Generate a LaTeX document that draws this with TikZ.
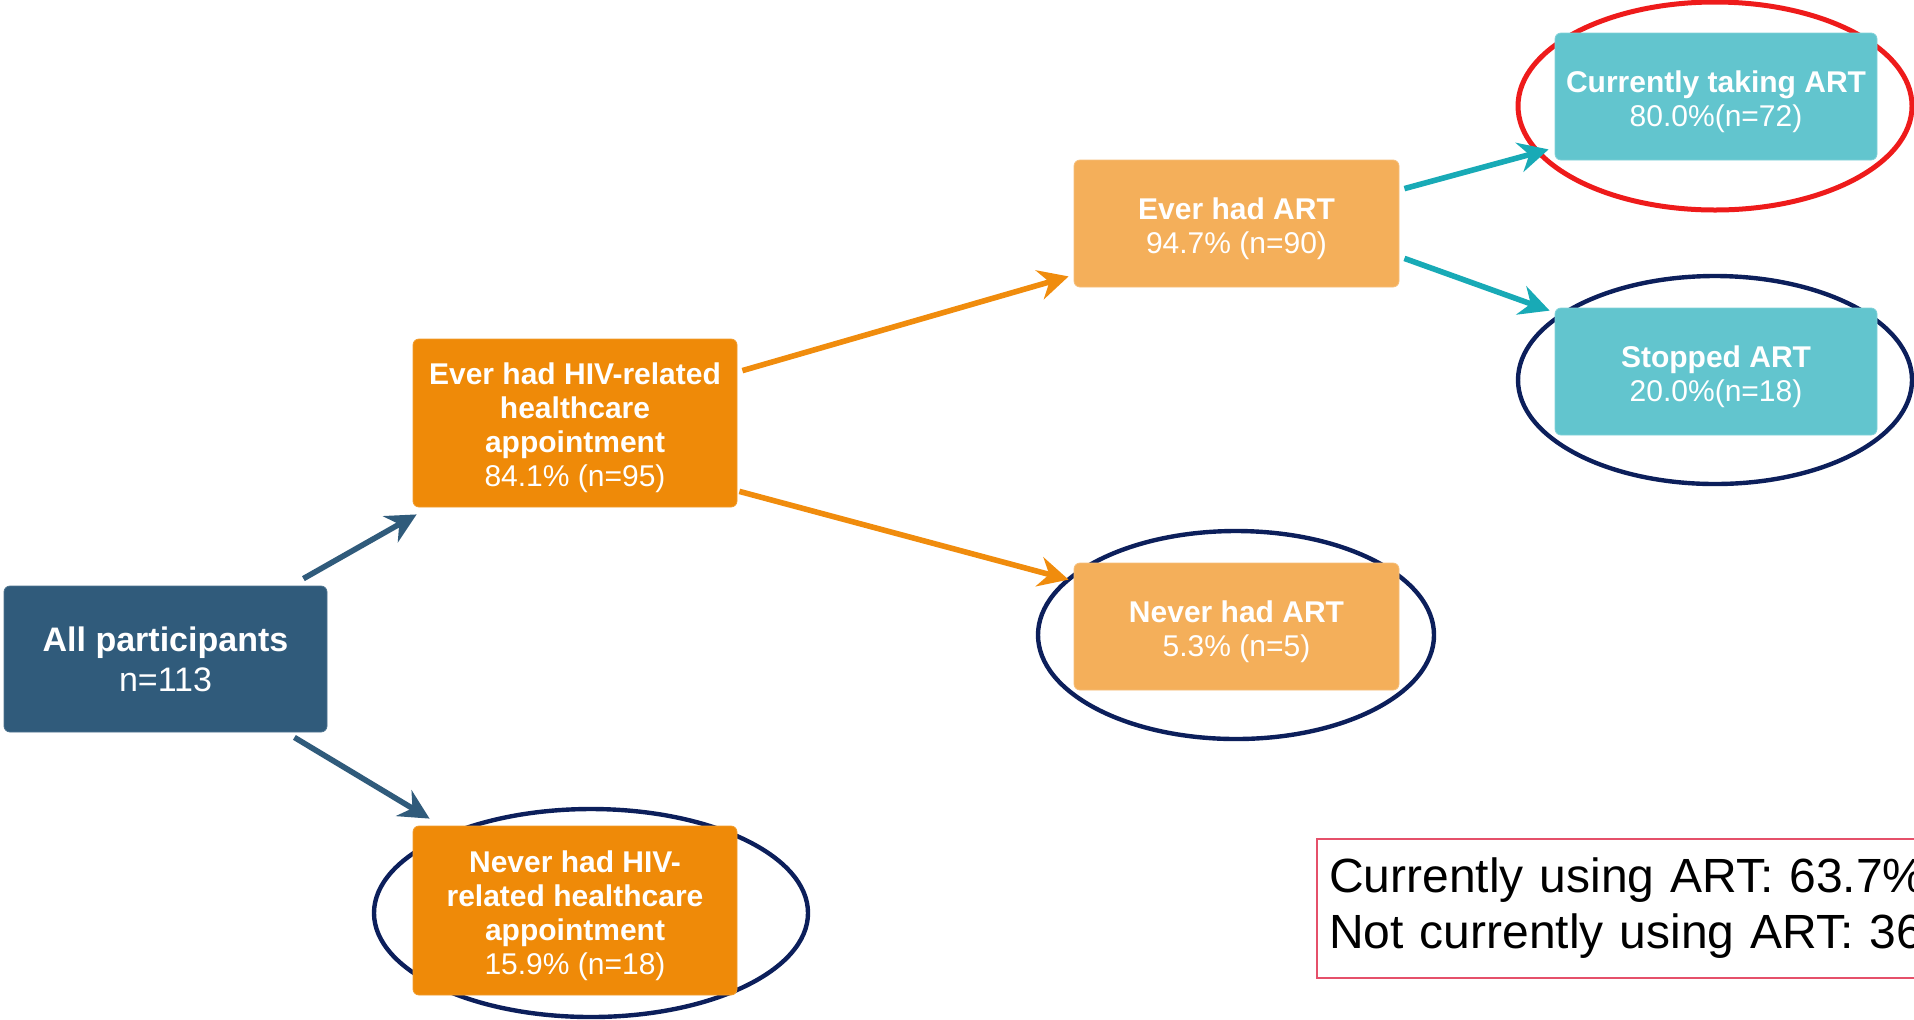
\documentclass[tikz,border=0pt]{standalone}
\usepackage{fontspec}
\setmainfont{Liberation Sans}
\usetikzlibrary{arrows.meta}
\definecolor{dblue}{HTML}{305B7B}
\definecolor{orng}{HTML}{EF8A08}
\definecolor{lorng}{HTML}{F4AF5A}
\definecolor{teal}{HTML}{62C5CE}
\definecolor{tealarr}{HTML}{18AAB6}
\definecolor{orngarr}{HTML}{F08C0D}
\definecolor{navy}{HTML}{0C1F5B}
\definecolor{redring}{HTML}{EE1B1B}
\definecolor{pinkline}{HTML}{E5506A}
\newcommand{\tpstrut}{\rule{0pt}{16pt}}
\begin{document}
\begin{tikzpicture}[x=0.5pt,y=-0.5pt,
  box/.style={rectangle, rounded corners=3pt, align=center, text=white, inner sep=0pt,
    minimum width=162pt, minimum height=63.5pt, font=\fontsize{15}{17}\selectfont},
  arr/.style={line width=2.8pt, -{Stealth[length=15pt,width=15pt,inset=5pt]}},
  ring/.style={line width=2.2pt, draw=navy}
]
\useasboundingbox (0,0) rectangle (1914,1019);
% ellipses (behind boxes)
\draw[line width=2.5pt, draw=redring] (1715,106) ellipse [x radius=98.5pt, y radius=52pt];
\draw[ring] (1715,380) ellipse [x radius=98.5pt, y radius=52pt];
\draw[ring] (1236,635) ellipse [x radius=99pt, y radius=52pt];
\draw[ring] (591,913) ellipse [x radius=108.5pt, y radius=52pt];
% boxes
\node[box, fill=dblue, draw=dblue!85!white, minimum width=161.5pt, minimum height=73pt,
  font=\fontsize{17}{20}\selectfont] (all) at (165.5,659) {\textbf{All participants}\\n=113};
\node[box, fill=orng, draw=orng!85!white, minimum height=84pt] (ehiv) at (575,423)
  {\tpstrut\textbf{Ever had HIV-related}\\\textbf{healthcare}\\\textbf{appointment}\\84.1\% (n=95)};
\node[box, fill=orng, draw=orng!85!white, minimum height=84.5pt] (nhiv) at (575,910.5)
  {\tpstrut\textbf{Never had HIV-}\\\textbf{related healthcare}\\\textbf{appointment}\\15.9\% (n=18)};
\node[box, fill=lorng, draw=lorng!80!white, minimum width=162.5pt] (eart) at (1236.5,223.5)
  {\tpstrut\textbf{Ever had ART}\\94.7\% (n=90)};
\node[box, fill=lorng, draw=lorng!80!white, minimum width=162.5pt] (nart) at (1236.5,626.5)
  {\tpstrut\textbf{Never had ART}\\5.3\% (n=5)};
\node[box, fill=teal, draw=teal!80!white, minimum width=161pt] (cur) at (1716,96.5)
  {\tpstrut\textbf{Currently taking ART}\\80.0\%(n=72)};
\node[box, fill=teal, draw=teal!80!white, minimum width=161pt] (stop) at (1716,371.5)
  {\tpstrut\textbf{Stopped ART}\\20.0\%(n=18)};
% connectors
\draw[arr, dblue] ([xshift=-12pt,yshift=3.5pt]all.north east) -- ([xshift=2pt,yshift=-3.5pt]ehiv.south west);
\draw[arr, dblue] ([xshift=-16.5pt,yshift=-2.5pt]all.south east) -- ([xshift=8.5pt,yshift=3.5pt]nhiv.north west);
\draw[arr, orngarr] ([xshift=2.5pt,yshift=-16pt]ehiv.north east) -- ([xshift=-2.5pt,yshift=5.5pt]eart.south west);
\draw[arr, orngarr] ([xshift=1pt,yshift=8pt]ehiv.south east) -- ([xshift=-2.5pt,yshift=-8.5pt]nart.north west);
\draw[arr, tealarr] ([xshift=2.5pt,yshift=-14.5pt]eart.north east) -- ([xshift=-3pt,yshift=5.5pt]cur.south west);
\draw[arr, tealarr] ([xshift=2.5pt,yshift=14.5pt]eart.south east) -- ([xshift=-2.5pt,yshift=-1.5pt]stop.north west);
% summary box (cut by the right edge, as in the reference)
\node[anchor=north west, draw=pinkline, line width=1pt, inner xsep=6pt, inner ysep=0pt,
  minimum height=69.5pt, text width=380pt, align=left,
  font=\fontsize{24}{28}\selectfont] (sum) at (1316,838)
  {Currently using ART: 63.7\%\\Not currently using ART: 36};
\end{tikzpicture}
\end{document}
